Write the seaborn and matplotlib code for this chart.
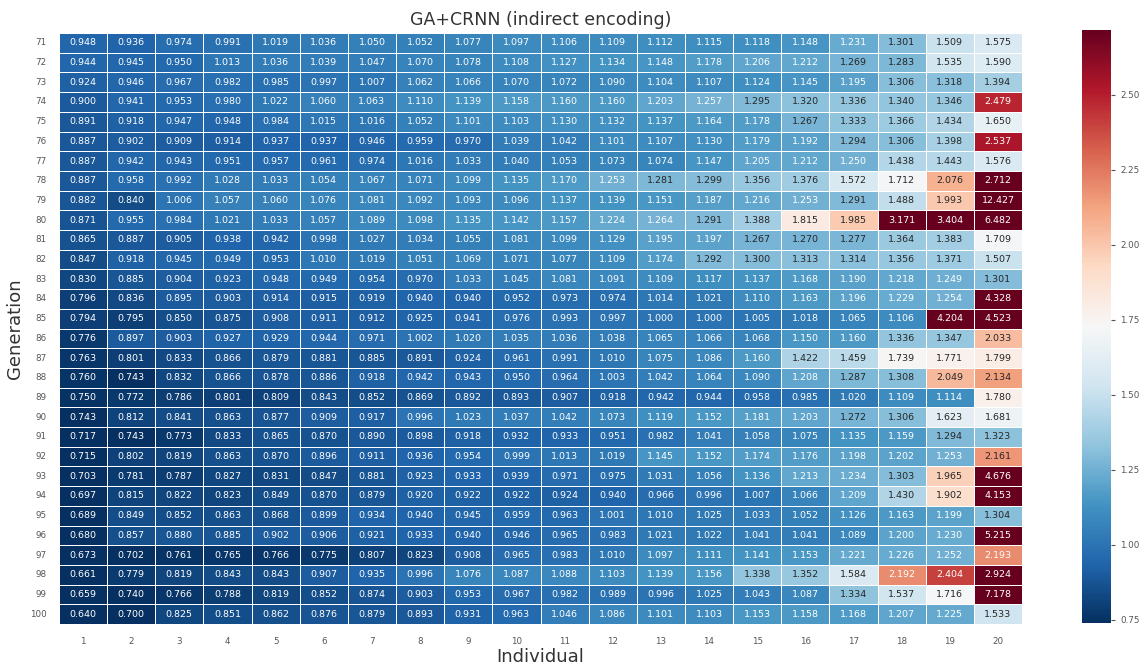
import numpy as np
import pandas as pd
import matplotlib
matplotlib.use("Agg")
import matplotlib.pyplot as plt
import seaborn as sns

# Valores de fitness por generación (filas) e individuo (columnas)
generations = list(range(71, 101))
individuals = list(range(1, 21))

g71 = [0.948, 0.936, 0.974, 0.991, 1.019, 1.036, 1.050, 1.052, 1.077, 1.097, 1.106, 1.109, 1.112, 1.115, 1.118, 1.148, 1.231, 1.301, 1.509, 1.575]
g72 = [0.944, 0.945, 0.950, 1.013, 1.036, 1.039, 1.047, 1.070, 1.078, 1.108, 1.127, 1.134, 1.148, 1.178, 1.206, 1.212, 1.269, 1.283, 1.535, 1.590]
g73 = [0.924, 0.946, 0.967, 0.982, 0.985, 0.997, 1.007, 1.062, 1.066, 1.070, 1.072, 1.090, 1.104, 1.107, 1.124, 1.145, 1.195, 1.306, 1.318, 1.394]
g74 = [0.900, 0.941, 0.953, 0.980, 1.022, 1.060, 1.063, 1.110, 1.139, 1.158, 1.160, 1.160, 1.203, 1.257, 1.295, 1.320, 1.336, 1.340, 1.346, 2.479]
g75 = [0.891, 0.918, 0.947, 0.948, 0.984, 1.015, 1.016, 1.052, 1.101, 1.103, 1.130, 1.132, 1.137, 1.164, 1.178, 1.267, 1.333, 1.366, 1.434, 1.650]
g76 = [0.887, 0.902, 0.909, 0.914, 0.937, 0.937, 0.946, 0.959, 0.970, 1.039, 1.042, 1.101, 1.107, 1.130, 1.179, 1.192, 1.294, 1.306, 1.398, 2.537]
g77 = [0.887, 0.942, 0.943, 0.951, 0.957, 0.961, 0.974, 1.016, 1.033, 1.040, 1.053, 1.073, 1.074, 1.147, 1.205, 1.212, 1.250, 1.438, 1.443, 1.576]
g78 = [0.887, 0.958, 0.992, 1.028, 1.033, 1.054, 1.067, 1.071, 1.099, 1.135, 1.170, 1.253, 1.281, 1.299, 1.356, 1.376, 1.572, 1.712, 2.076, 2.712]
g79 = [0.882, 0.840, 1.006, 1.057, 1.060, 1.076, 1.081, 1.092, 1.093, 1.096, 1.137, 1.139, 1.151, 1.187, 1.216, 1.253, 1.291, 1.488, 1.993, 12.427]
g80 = [0.871, 0.955, 0.984, 1.021, 1.033, 1.057, 1.089, 1.098, 1.135, 1.142, 1.157, 1.224, 1.264, 1.291, 1.388, 1.815, 1.985, 3.171, 3.404, 6.482]
g81 = [0.865, 0.887, 0.905, 0.938, 0.942, 0.998, 1.027, 1.034, 1.055, 1.081, 1.099, 1.129, 1.195, 1.197, 1.267, 1.270, 1.277, 1.364, 1.383, 1.709]
g82 = [0.847, 0.918, 0.945, 0.949, 0.953, 1.010, 1.019, 1.051, 1.069, 1.071, 1.077, 1.109, 1.174, 1.292, 1.300, 1.313, 1.314, 1.356, 1.371, 1.507]
g83 = [0.830, 0.885, 0.904, 0.923, 0.948, 0.949, 0.954, 0.970, 1.033, 1.045, 1.081, 1.091, 1.109, 1.117, 1.137, 1.168, 1.190, 1.218, 1.249, 1.301]
g84 = [0.796, 0.836, 0.895, 0.903, 0.914, 0.915, 0.919, 0.940, 0.940, 0.952, 0.973, 0.974, 1.014, 1.021, 1.110, 1.163, 1.196, 1.229, 1.254, 4.328]
g85 = [0.794, 0.795, 0.850, 0.875, 0.908, 0.911, 0.912, 0.925, 0.941, 0.976, 0.993, 0.997, 1.000, 1.000, 1.005, 1.018, 1.065, 1.106, 4.204, 4.523]
g86 = [0.776, 0.897, 0.903, 0.927, 0.929, 0.944, 0.971, 1.002, 1.020, 1.035, 1.036, 1.038, 1.065, 1.066, 1.068, 1.150, 1.160, 1.336, 1.347, 2.033]
g87 = [0.763, 0.801, 0.833, 0.866, 0.879, 0.881, 0.885, 0.891, 0.924, 0.961, 0.991, 1.010, 1.075, 1.086, 1.160, 1.422, 1.459, 1.739, 1.771, 1.799]
g88 = [0.760, 0.743, 0.832, 0.866, 0.878, 0.886, 0.918, 0.942, 0.943, 0.950, 0.964, 1.003, 1.042, 1.064, 1.090, 1.208, 1.287, 1.308, 2.049, 2.134]
g89 = [0.750, 0.772, 0.786, 0.801, 0.809, 0.843, 0.852, 0.869, 0.892, 0.893, 0.907, 0.918, 0.942, 0.944, 0.958, 0.985, 1.020, 1.109, 1.114, 1.780]
g90 = [0.743, 0.812, 0.841, 0.863, 0.877, 0.909, 0.917, 0.996, 1.023, 1.037, 1.042, 1.073, 1.119, 1.152, 1.181, 1.203, 1.272, 1.306, 1.623, 1.681]
g91 = [0.717, 0.743, 0.773, 0.833, 0.865, 0.870, 0.890, 0.898, 0.918, 0.932, 0.933, 0.951, 0.982, 1.041, 1.058, 1.075, 1.135, 1.159, 1.294, 1.323]
g92 = [0.715, 0.802, 0.819, 0.863, 0.870, 0.896, 0.911, 0.936, 0.954, 0.999, 1.013, 1.019, 1.145, 1.152, 1.174, 1.176, 1.198, 1.202, 1.253, 2.161]
g93 = [0.703, 0.781, 0.787, 0.827, 0.831, 0.847, 0.881, 0.923, 0.933, 0.939, 0.971, 0.975, 1.031, 1.056, 1.136, 1.213, 1.234, 1.303, 1.965, 4.676]
g94 = [0.697, 0.815, 0.822, 0.823, 0.849, 0.870, 0.879, 0.920, 0.922, 0.922, 0.924, 0.940, 0.966, 0.996, 1.007, 1.066, 1.209, 1.430, 1.902, 4.153]
g95 = [0.689, 0.849, 0.852, 0.863, 0.868, 0.899, 0.934, 0.940, 0.945, 0.959, 0.963, 1.001, 1.010, 1.025, 1.033, 1.052, 1.126, 1.163, 1.199, 1.304]
g96 = [0.680, 0.857, 0.880, 0.885, 0.902, 0.906, 0.921, 0.933, 0.940, 0.946, 0.965, 0.983, 1.021, 1.022, 1.041, 1.041, 1.089, 1.200, 1.230, 5.215]
g97 = [0.673, 0.702, 0.761, 0.765, 0.766, 0.775, 0.807, 0.823, 0.908, 0.965, 0.983, 1.010, 1.097, 1.111, 1.141, 1.153, 1.221, 1.226, 1.252, 2.193]
g98 = [0.661, 0.779, 0.819, 0.843, 0.843, 0.907, 0.935, 0.996, 1.076, 1.087, 1.088, 1.103, 1.139, 1.156, 1.338, 1.352, 1.584, 2.192, 2.404, 2.924]
g99 = [0.659, 0.740, 0.766, 0.788, 0.819, 0.852, 0.874, 0.903, 0.953, 0.967, 0.982, 0.989, 0.996, 1.025, 1.043, 1.087, 1.334, 1.537, 1.716, 7.178]
g100 = [0.640, 0.700, 0.825, 0.851, 0.862, 0.876, 0.879, 0.893, 0.931, 0.963, 1.046, 1.086, 1.101, 1.103, 1.153, 1.158, 1.168, 1.207, 1.225, 1.533]

rows = [g71, g72, g73, g74, g75, g76, g77, g78, g79, g80,
        g81, g82, g83, g84, g85, g86, g87, g88, g89, g90,
        g91, g92, g93, g94, g95, g96, g97, g98, g99, g100]


def main():
    df = pd.DataFrame(rows, index=generations, columns=individuals)

    sns.set_theme(style="white")
    plt.rcParams["font.family"] = ["DejaVu Sans"]

    fig = plt.figure(figsize=(11.42, 6.64), dpi=100)
    ax = fig.add_axes([59 / 1142, 40 / 664, 963 / 1142, 591 / 664])
    cax = fig.add_axes([1082 / 1142, 41 / 664, 29 / 1142, 593 / 664])

    sns.heatmap(
        df,
        ax=ax,
        cbar_ax=cax,
        cmap="RdBu_r",
        robust=True,
        annot=True,
        fmt=".3f",
        annot_kws={"fontsize": 6.8},
        linewidths=0.5,
        linecolor="white",
    )

    ax.set_title("GA+CRNN (indirect encoding)", fontsize=12.5, color="#333333", pad=6)
    ax.set_xlabel("Individual", fontsize=13, color="#333333", labelpad=2)
    ax.set_ylabel("Generation", fontsize=13, color="#333333", labelpad=4)
    ax.tick_params(axis="both", length=0, labelsize=6.3, colors="#555555", pad=9)
    ax.tick_params(axis="y", rotation=0)

    cax.tick_params(length=3, width=0.8, labelsize=6.3, colors="#555555")
    cax.set_yticks([0.75, 1.00, 1.25, 1.50, 1.75, 2.00, 2.25, 2.50])
    cax.set_yticklabels(["0.75", "1.00", "1.25", "1.50", "1.75", "2.00", "2.25", "2.50"])

    fig.savefig("out.png", dpi=100)
    plt.close(fig)


if __name__ == "__main__":
    main()
